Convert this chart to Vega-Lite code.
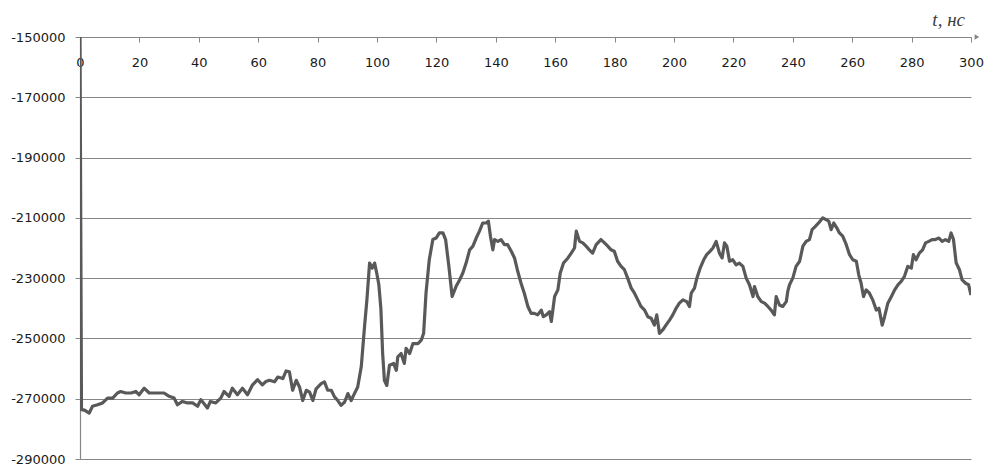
{
  "$schema": "https://vega.github.io/schema/vega-lite/v6.json",
  "autosize": "none",
  "width": 891,
  "height": 422,
  "padding": {"left": 80, "top": 37, "right": 13, "bottom": 5},
  "background": "white",
  "title": {
    "text": "t, нс",
    "anchor": "end",
    "orient": "top",
    "frame": "group",
    "font": "Liberation Serif",
    "fontStyle": "italic",
    "fontWeight": "normal",
    "fontSize": 19,
    "color": "#404040",
    "baseline": "alphabetic",
    "offset": 10,
    "dx": -6,
    "dy": 24
  },
  "config": {
    "view": {"stroke": null},
    "axis": {
      "labelFont": "DejaVu Sans",
      "labelFontSize": 13,
      "labelColor": "#1a1a1a",
      "domainColor": "#868686",
      "tickColor": "#868686",
      "gridColor": "#868686",
      "gridOpacity": 1,
      "domainWidth": 1.2,
      "tickSize": 5
    }
  },
  "data": {
    "values": [
      {"t": 0, "v": -150000}, {"t": 0.5, "v": -273600}, {"t": 1.5, "v": -273800}, {"t": 3.1, "v": -274800},
      {"t": 4.2, "v": -272500}, {"t": 5.9, "v": -272000}, {"t": 7.6, "v": -271400}, {"t": 9.3, "v": -269800},
      {"t": 11, "v": -269800}, {"t": 12.6, "v": -268100}, {"t": 13.7, "v": -267600}, {"t": 15.4, "v": -268100},
      {"t": 17.2, "v": -268100}, {"t": 18.8, "v": -267600}, {"t": 19.9, "v": -268700}, {"t": 21.6, "v": -266500},
      {"t": 23.3, "v": -268100}, {"t": 25, "v": -268100}, {"t": 26.7, "v": -268100}, {"t": 28.3, "v": -268100},
      {"t": 30, "v": -269200}, {"t": 31.7, "v": -269800}, {"t": 32.8, "v": -272000}, {"t": 34.5, "v": -270900},
      {"t": 36.2, "v": -271400}, {"t": 37.9, "v": -271400}, {"t": 39.6, "v": -272500}, {"t": 40.7, "v": -270300},
      {"t": 42.9, "v": -273100}, {"t": 43.9, "v": -270900}, {"t": 45.7, "v": -271400}, {"t": 47.4, "v": -269800},
      {"t": 48.5, "v": -267600}, {"t": 50.2, "v": -269200}, {"t": 51.3, "v": -266500}, {"t": 53, "v": -268700},
      {"t": 54.7, "v": -266500}, {"t": 56.4, "v": -268700}, {"t": 58.1, "v": -265400}, {"t": 59.8, "v": -263700},
      {"t": 61.4, "v": -265400}, {"t": 62.6, "v": -264300}, {"t": 63.8, "v": -263900}, {"t": 65.5, "v": -264400},
      {"t": 66.6, "v": -262800}, {"t": 68.3, "v": -263300}, {"t": 69.4, "v": -260800}, {"t": 70.5, "v": -261100},
      {"t": 71.6, "v": -267200}, {"t": 72.8, "v": -263900}, {"t": 73.9, "v": -266100}, {"t": 75, "v": -270600},
      {"t": 76.2, "v": -267200}, {"t": 77.3, "v": -267800}, {"t": 78.4, "v": -270600}, {"t": 79.5, "v": -266700},
      {"t": 81.2, "v": -265000}, {"t": 82.3, "v": -264400}, {"t": 83.4, "v": -267200}, {"t": 84.6, "v": -267200},
      {"t": 85.7, "v": -269400}, {"t": 86.8, "v": -270600}, {"t": 87.9, "v": -272200}, {"t": 89.1, "v": -271100},
      {"t": 90.2, "v": -268300}, {"t": 91.3, "v": -270600}, {"t": 92.4, "v": -268300}, {"t": 93.5, "v": -266100},
      {"t": 94.7, "v": -259400}, {"t": 95.8, "v": -246100}, {"t": 96.6, "v": -237200}, {"t": 97.5, "v": -225000},
      {"t": 98.4, "v": -226700}, {"t": 99.2, "v": -225000}, {"t": 99.9, "v": -228300}, {"t": 100.6, "v": -232000},
      {"t": 101.3, "v": -240000}, {"t": 101.9, "v": -255000}, {"t": 102.5, "v": -264000}, {"t": 103.3, "v": -265600},
      {"t": 104.2, "v": -258900}, {"t": 105.6, "v": -258300}, {"t": 106.5, "v": -260600}, {"t": 107, "v": -256100},
      {"t": 108.1, "v": -255000}, {"t": 109.2, "v": -258300}, {"t": 109.8, "v": -253300}, {"t": 111, "v": -255000},
      {"t": 112.1, "v": -251700}, {"t": 113.8, "v": -251700}, {"t": 114.9, "v": -250600}, {"t": 115.7, "v": -248300},
      {"t": 116.5, "v": -235000}, {"t": 117.6, "v": -223900}, {"t": 118.8, "v": -217200}, {"t": 119.9, "v": -216700},
      {"t": 121, "v": -215000}, {"t": 122.2, "v": -215000}, {"t": 123.1, "v": -217200}, {"t": 124.2, "v": -226100},
      {"t": 125.3, "v": -236100}, {"t": 126.6, "v": -232800}, {"t": 127.8, "v": -230600}, {"t": 128.9, "v": -228300},
      {"t": 130, "v": -225000}, {"t": 131.2, "v": -220600}, {"t": 132.3, "v": -219400}, {"t": 133.4, "v": -216700},
      {"t": 134.5, "v": -214400}, {"t": 135.6, "v": -211700}, {"t": 136.8, "v": -211700}, {"t": 137.5, "v": -211100},
      {"t": 138.2, "v": -216100}, {"t": 139, "v": -220600}, {"t": 139.6, "v": -217200}, {"t": 140.7, "v": -217800},
      {"t": 141.8, "v": -217200}, {"t": 142.9, "v": -218900}, {"t": 144, "v": -218900}, {"t": 145.2, "v": -221100},
      {"t": 146.3, "v": -223300}, {"t": 147.4, "v": -227800}, {"t": 148.5, "v": -231700}, {"t": 149.6, "v": -235000},
      {"t": 150.8, "v": -239400}, {"t": 151.9, "v": -241700}, {"t": 153, "v": -241700}, {"t": 154.1, "v": -242200},
      {"t": 155.3, "v": -240600}, {"t": 156, "v": -242800}, {"t": 157, "v": -242200}, {"t": 158.1, "v": -241100},
      {"t": 158.7, "v": -244400}, {"t": 159.8, "v": -236100}, {"t": 160.9, "v": -233900}, {"t": 161.7, "v": -228300},
      {"t": 162.8, "v": -225000}, {"t": 164.3, "v": -223300}, {"t": 165.4, "v": -221700}, {"t": 166.5, "v": -220000},
      {"t": 167.1, "v": -214400}, {"t": 168.2, "v": -217800}, {"t": 169.3, "v": -218300}, {"t": 170.4, "v": -219400},
      {"t": 171.5, "v": -220600}, {"t": 172.6, "v": -221700}, {"t": 173.8, "v": -218900}, {"t": 175.4, "v": -217200},
      {"t": 176.6, "v": -218300}, {"t": 177.7, "v": -219400}, {"t": 178.8, "v": -220600}, {"t": 179.9, "v": -221100},
      {"t": 181, "v": -224400}, {"t": 182.2, "v": -226100}, {"t": 183.3, "v": -227200}, {"t": 184.4, "v": -230000},
      {"t": 185.6, "v": -233300}, {"t": 186.7, "v": -235000}, {"t": 187.8, "v": -237200}, {"t": 188.9, "v": -239400},
      {"t": 190.1, "v": -240600}, {"t": 191.2, "v": -242800}, {"t": 192.3, "v": -243300}, {"t": 193.4, "v": -245600},
      {"t": 194.2, "v": -242200}, {"t": 195.1, "v": -248300}, {"t": 196.2, "v": -247200}, {"t": 197.3, "v": -245600},
      {"t": 198.5, "v": -243900}, {"t": 199.6, "v": -242200}, {"t": 200.7, "v": -240000}, {"t": 201.8, "v": -238300},
      {"t": 203, "v": -237200}, {"t": 204.3, "v": -237800}, {"t": 205.2, "v": -239400}, {"t": 205.8, "v": -235000},
      {"t": 206.9, "v": -233300}, {"t": 207.7, "v": -230000}, {"t": 208.8, "v": -226700}, {"t": 210, "v": -223900},
      {"t": 211, "v": -222200}, {"t": 212.1, "v": -221100}, {"t": 213.1, "v": -220000}, {"t": 214.2, "v": -217800},
      {"t": 215.3, "v": -221700}, {"t": 216.2, "v": -223300}, {"t": 217, "v": -218300}, {"t": 217.8, "v": -219400},
      {"t": 218.7, "v": -224400}, {"t": 219.8, "v": -223900}, {"t": 220.9, "v": -225600}, {"t": 222, "v": -225000},
      {"t": 223.2, "v": -226100}, {"t": 224.3, "v": -230000}, {"t": 225.4, "v": -232200}, {"t": 226.6, "v": -236100},
      {"t": 227.1, "v": -232800}, {"t": 228.2, "v": -236100}, {"t": 229.4, "v": -237800}, {"t": 230.5, "v": -238300},
      {"t": 231.6, "v": -239400}, {"t": 232.7, "v": -240600}, {"t": 233.8, "v": -242200}, {"t": 234.4, "v": -236100},
      {"t": 235.5, "v": -238900}, {"t": 236.6, "v": -239400}, {"t": 237.8, "v": -237800}, {"t": 238.3, "v": -234400},
      {"t": 238.9, "v": -232200}, {"t": 240, "v": -230000}, {"t": 241.1, "v": -226100}, {"t": 242.3, "v": -224400},
      {"t": 243.4, "v": -219400}, {"t": 244.5, "v": -217800}, {"t": 245.6, "v": -217200}, {"t": 246.5, "v": -213900},
      {"t": 247.6, "v": -212800}, {"t": 248.7, "v": -211700}, {"t": 250.1, "v": -210000}, {"t": 251.2, "v": -210600},
      {"t": 252.1, "v": -211100}, {"t": 252.9, "v": -213900}, {"t": 253.8, "v": -211700}, {"t": 254.8, "v": -213300},
      {"t": 255.7, "v": -215000}, {"t": 256.8, "v": -216100}, {"t": 258, "v": -218900}, {"t": 259.1, "v": -222200},
      {"t": 260.2, "v": -223900}, {"t": 261.4, "v": -224400}, {"t": 262.2, "v": -228900}, {"t": 263, "v": -231700},
      {"t": 263.8, "v": -236100}, {"t": 264.7, "v": -233900}, {"t": 265.8, "v": -235000}, {"t": 266.9, "v": -237200},
      {"t": 268.1, "v": -240600}, {"t": 269, "v": -240000}, {"t": 270.1, "v": -245600}, {"t": 270.9, "v": -242800},
      {"t": 272, "v": -238300}, {"t": 273.2, "v": -236100}, {"t": 274.3, "v": -233900}, {"t": 275.4, "v": -232200},
      {"t": 276.5, "v": -231100}, {"t": 277.6, "v": -229400}, {"t": 278.7, "v": -226100}, {"t": 279.9, "v": -226700},
      {"t": 280.6, "v": -222200}, {"t": 281.5, "v": -223900}, {"t": 282.6, "v": -221700}, {"t": 283.7, "v": -220600},
      {"t": 284.7, "v": -218300}, {"t": 285.8, "v": -217800}, {"t": 286.9, "v": -217200}, {"t": 288, "v": -217200},
      {"t": 289.2, "v": -216700}, {"t": 290.3, "v": -217800}, {"t": 291.4, "v": -217200}, {"t": 292.5, "v": -217800},
      {"t": 293.3, "v": -215000}, {"t": 294.1, "v": -217200}, {"t": 295, "v": -224900}, {"t": 296.1, "v": -227200},
      {"t": 297, "v": -230600}, {"t": 298.2, "v": -231700}, {"t": 299.2, "v": -232200}, {"t": 300, "v": -235600}
    ]
  },
  "layer": [
    {
      "mark": {"type": "line", "color": "#595959", "strokeWidth": 3.2, "strokeJoin": "round", "clip": true},
      "encoding": {
        "x": {
          "field": "t",
          "type": "quantitative",
          "scale": {"domain": [0, 300], "nice": false, "zero": false},
          "axis": {
            "orient": "bottom",
            "offset": -422,
            "title": null,
            "grid": false,
            "values": [0, 10, 20, 30, 40, 50, 60, 70, 80, 90, 100, 110, 120, 130, 140, 150, 160, 170, 180, 190, 200, 210, 220, 230, 240, 250, 260, 270, 280, 290, 300],
            "labelExpr": "datum.value % 20 === 0 ? '' + datum.value : ''",
            "labelPadding": 14,
            "labelOverlap": false,
            "labelFlush": false
          }
        },
        "y": {
          "field": "v",
          "type": "quantitative",
          "scale": {"domain": [-290000, -150000], "nice": false, "zero": false},
          "axis": {
            "title": null,
            "grid": true,
            "values": [-290000, -270000, -250000, -230000, -210000, -190000, -170000, -150000],
            "labelExpr": "'' + datum.value",
            "labelPadding": 10,
            "labelOverlap": false,
            "labelFlush": false
          }
        }
      }
    },
    {
      "data": {"values": [{}]},
      "mark": {"type": "point", "shape": "triangle-right", "filled": true, "color": "#868686", "opacity": 1, "size": 30, "clip": false},
      "encoding": {
        "x": {"datum": 302},
        "y": {"datum": -150000}
      }
    }
  ]
}
